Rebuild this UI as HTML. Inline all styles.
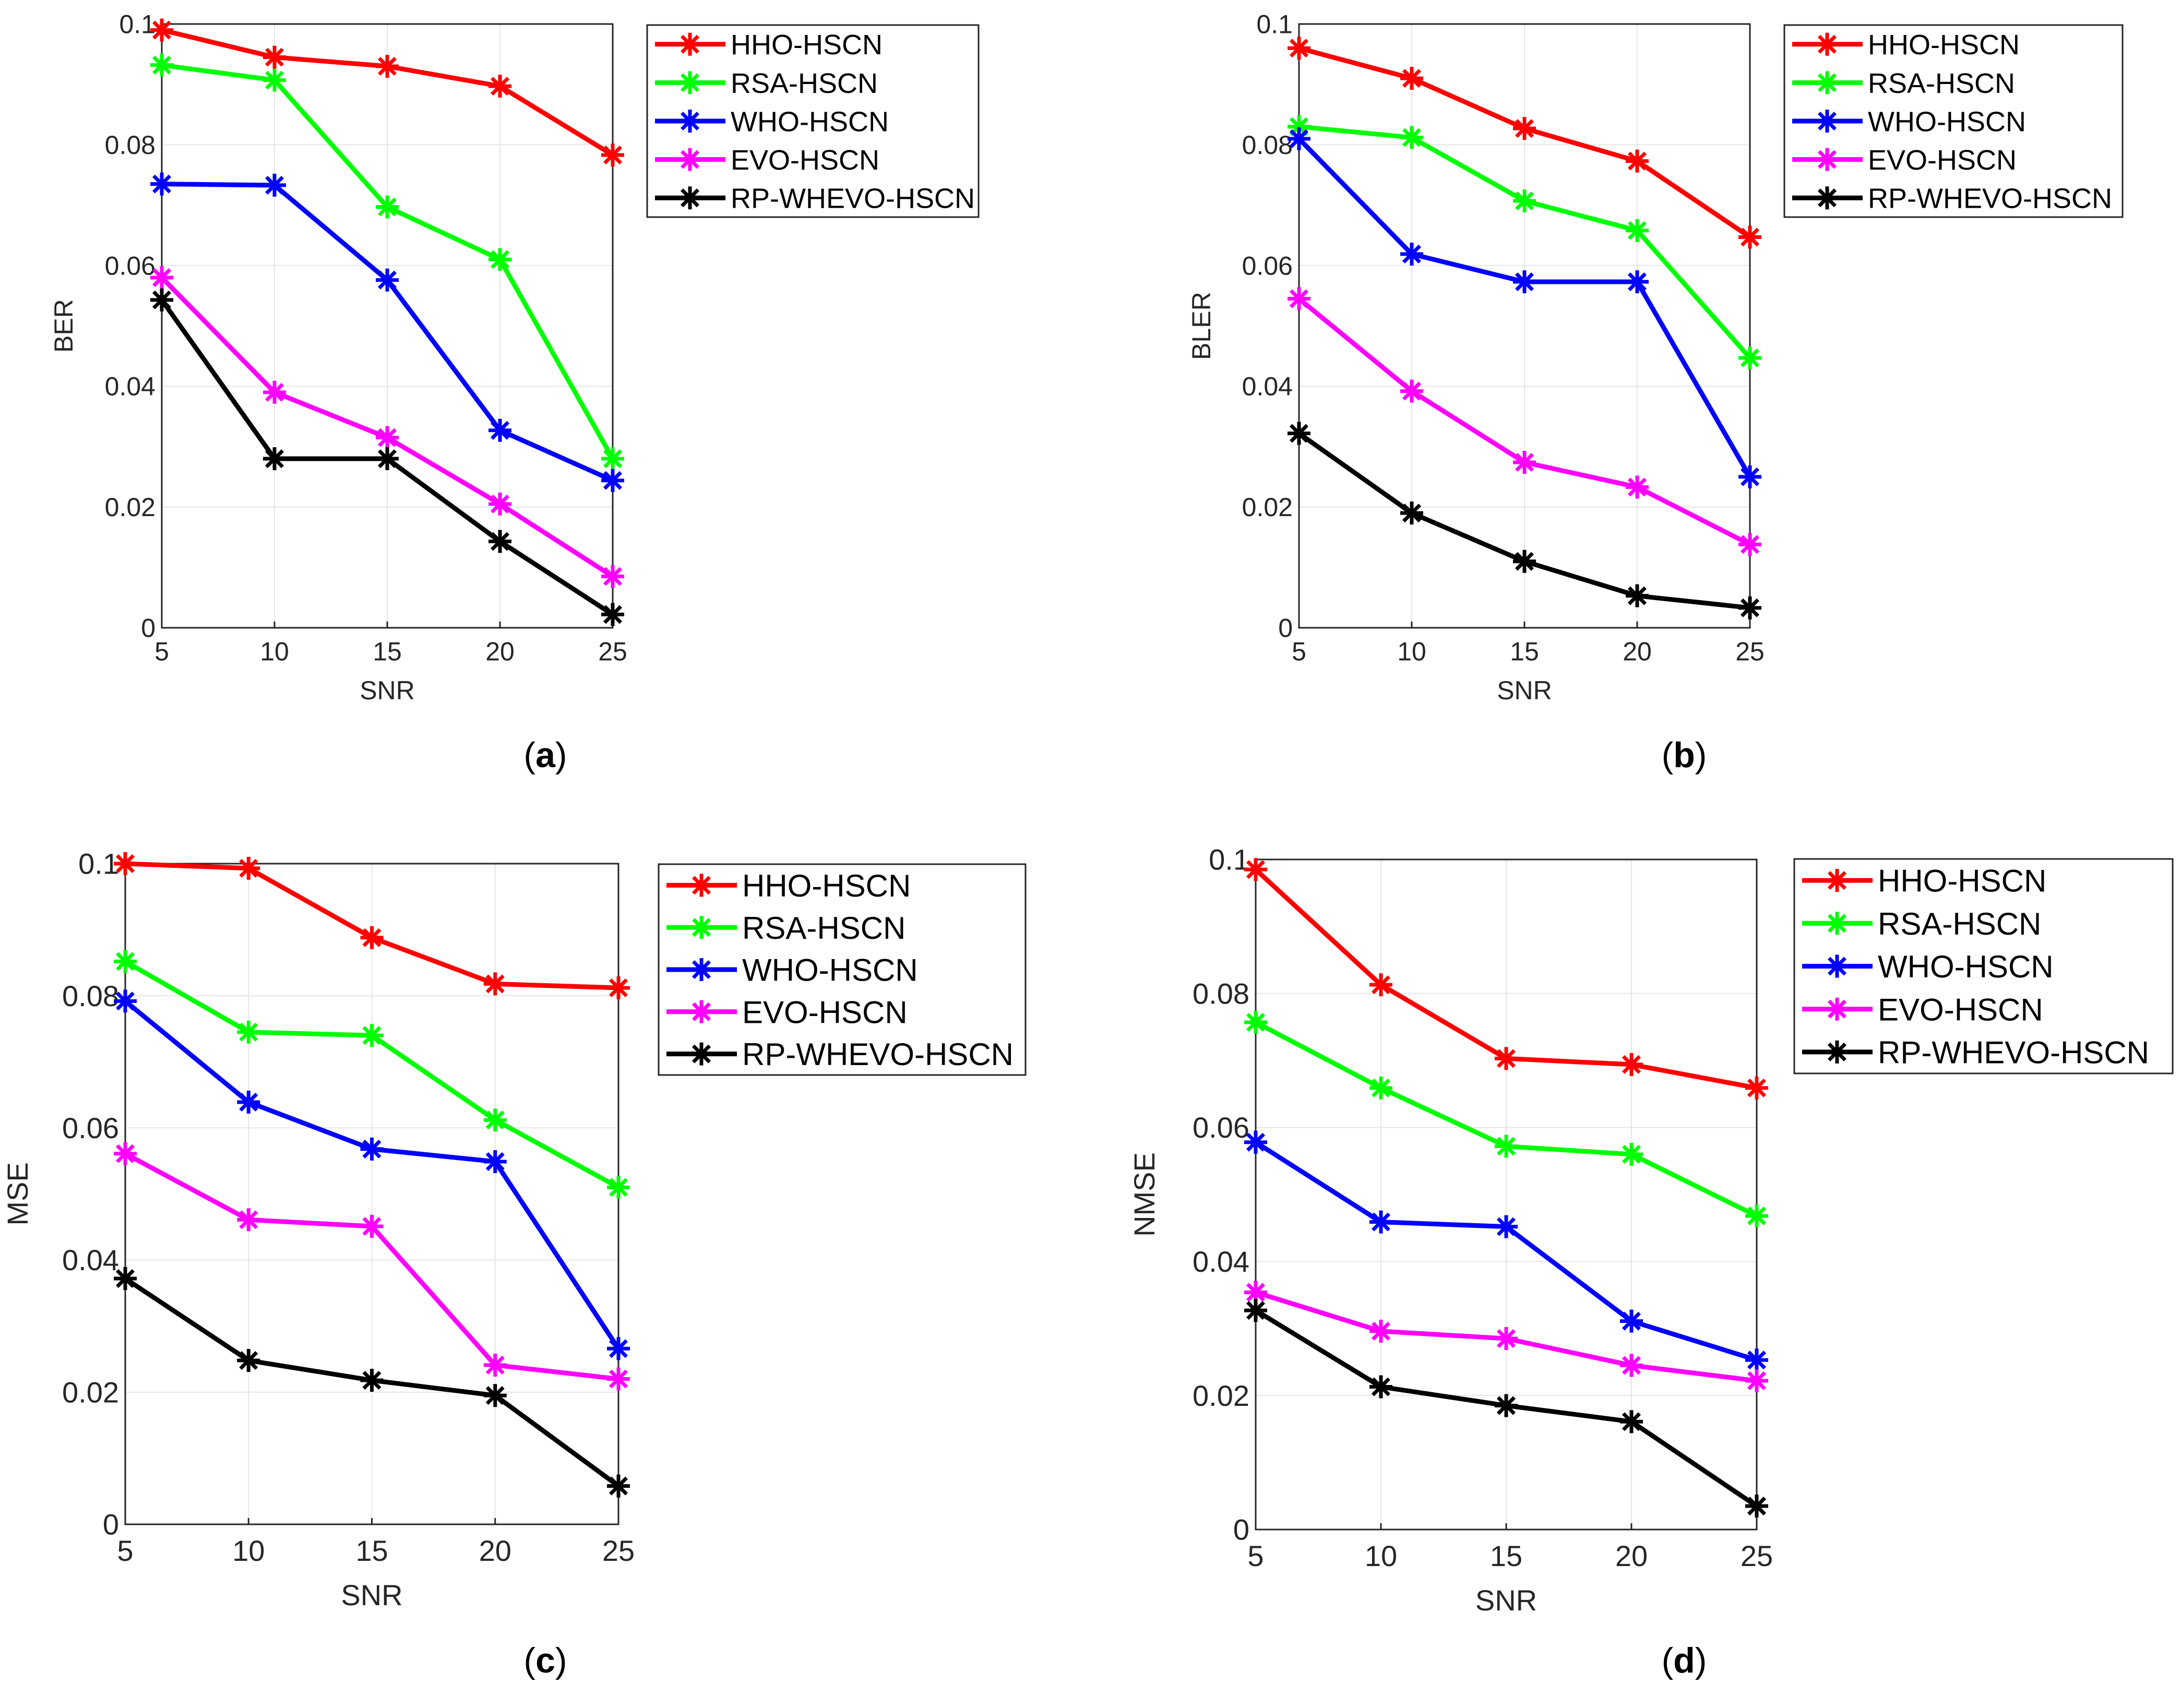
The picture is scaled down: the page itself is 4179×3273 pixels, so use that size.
<!DOCTYPE html>
<html><head><meta charset="utf-8"><style>
body{margin:0;background:#fff}
svg text{font-family:"Liberation Sans",sans-serif}
</style></head><body>
<svg id="c" width="4179" height="3268" xmlns="http://www.w3.org/2000/svg"></svg>
<script>
const snr=[5,10,15,20,25];
const yTicks=[0,0.02,0.04,0.06,0.08,0.1];
const yTickLabels=["0","0.02","0.04","0.06","0.08","0.1"];
const seriesNames=["HHO-HSCN","RSA-HSCN","WHO-HSCN","EVO-HSCN","RP-WHEVO-HSCN"];
const colors=["#ff0000","#00ff00","#0000ff","#ff00ff","#000000"];
const berHHO=[.099,.0945,.093,.0897,.0783];
const berRSA=[.0932,.0907,.0697,.061,.028];
const berWHO=[.0735,.0733,.0576,.0327,.0244];
const berEVO=[.058,.039,.0315,.0205,.0085];
const berRP=[.0543,.028,.028,.0143,.0022];
const blerHHO=[.096,.091,.0827,.0773,.0647];
const blerRSA=[.083,.0812,.0707,.0658,.0447];
const blerWHO=[.081,.0619,.0573,.0573,.025];
const blerEVO=[.0545,.0392,.0274,.0233,.0138];
const blerRP=[.0322,.019,.011,.0053,.0033];
const mseHHO=[.1,.0993,.0888,.0818,.0812];
const mseRSA=[.0852,.0745,.074,.0612,.051];
const mseWHO=[.0792,.0639,.0568,.0549,.0266];
const mseEVO=[.0561,.0461,.0451,.0241,.022];
const mseRP=[.0372,.0248,.0218,.0195,.0058];
const nmseHHO=[.0985,.0813,.0703,.0694,.0659];
const nmseRSA=[.0757,.0659,.0572,.056,.0468];
const nmseWHO=[.0578,.0459,.0452,.0311,.0253];
const nmseEVO=[.0354,.0296,.0285,.0245,.0222];
const nmseRP=[.0327,.0213,.0185,.0161,.0035];

const NS="http://www.w3.org/2000/svg";
const svg=document.getElementById('c');
function mk(t,a,p){const e=document.createElementNS(NS,t);for(const k in a)e.setAttribute(k,a[k]);(p||svg).appendChild(e);return e;}
function star(g,x,y,col,r){
  for(let i=0;i<4;i++){const a=i*Math.PI/4;
    mk('line',{x1:x-r*Math.cos(a),y1:y-r*Math.sin(a),x2:x+r*Math.cos(a),y2:y+r*Math.sin(a),stroke:col,'stroke-width':7},g);}
}
const panels=[
 {id:'a',L:310,R:1174,T:46,B:1203,ylab:'BER',ylx:139,data:[berHHO,berRSA,berWHO,berEVO,berRP],fs:50,leg:[1240,48,1875,416],lfs:54,cap:'a',capY:1470,xly:1340},
 {id:'b',L:2489,R:3353,T:46,B:1203,ylab:'BLER',ylx:2319,data:[blerHHO,blerRSA,blerWHO,blerEVO,blerRP],fs:50,leg:[3419,48,4067,416],lfs:54,cap:'b',capY:1470,xly:1340},
 {id:'c',L:240,R:1185,T:1655,B:2921,ylab:'MSE',ylx:53,data:[mseHHO,mseRSA,mseWHO,mseEVO,mseRP],fs:56,leg:[1262,1656,1965,2060],lfs:60,cap:'c',capY:3205,xly:3076},
 {id:'d',L:2406,R:3366,T:1647,B:2931,ylab:'NMSE',ylx:2212,data:[nmseHHO,nmseRSA,nmseWHO,nmseEVO,nmseRP],fs:56,leg:[3438,1646,4163,2057],lfs:60,cap:'d',capY:3205,xly:3086}
];
panels.forEach(p=>{
  const g=mk('g',{});
  
  
  const sx=v=>p.L+(v-5)/20*(p.R-p.L);
  const sy=v=>p.B-v/0.1*(p.B-p.T);
  mk('rect',{x:p.L,y:p.T,width:p.R-p.L,height:p.B-p.T,fill:'#fff',stroke:'#262626','stroke-width':3},g);
  snr.forEach(s=>{
    mk('line',{x1:sx(s),x2:sx(s),y1:p.T,y2:p.B,stroke:'#e6e6e6','stroke-width':2},g);
    mk('line',{x1:sx(s),x2:sx(s),y1:p.B,y2:p.B-12,stroke:'#262626','stroke-width':3},g);
    const t=mk('text',{x:sx(s),y:p.B+p.fs*1.25,'text-anchor':'middle','font-size':p.fs,fill:'#262626'},g);t.textContent=s;
    
    
  });
  yTicks.forEach((v,i)=>{
    mk('line',{x1:p.L,x2:p.R,y1:sy(v),y2:sy(v),stroke:'#e6e6e6','stroke-width':2},g);
    const t=mk('text',{x:p.L-12,y:sy(v)+p.fs*0.35,'text-anchor':'end','font-size':p.fs,fill:'#262626'},g);t.textContent=yTickLabels[i];
    
    
  });
  mk('rect',{x:p.L,y:p.T,width:p.R-p.L,height:p.B-p.T,fill:'none',stroke:'#262626','stroke-width':3},g);
  const xl=mk('text',{x:(p.L+p.R)/2,y:p.xly,'text-anchor':'middle','font-size':p.fs,fill:'#262626'},g);xl.textContent='SNR';
  
  
  const cy=(p.T+p.B)/2;
  const yl=mk('text',{x:p.ylx,y:cy,'text-anchor':'middle','font-size':p.fs,fill:'#262626',transform:`rotate(-90 ${p.ylx} ${cy})`},g);yl.textContent=p.ylab;
  
  
  p.data.forEach((arr,k)=>{
    const sg=mk('g',{},g);
    
    
    mk('polyline',{points:arr.map((v,i)=>sx(snr[i])+','+sy(v)).join(' '),fill:'none',stroke:colors[k],'stroke-width':9,'stroke-linejoin':'round'},sg);
    arr.forEach((v,i)=>star(sg,sx(snr[i]),sy(v),colors[k],22));
  });
  const [lx1,ly1,lx2,ly2]=p.leg;
  const lg=mk('g',{},g);
  
  
  mk('rect',{x:lx1,y:ly1,width:lx2-lx1,height:ly2-ly1,fill:'#fff',stroke:'#262626','stroke-width':3},lg);
  const step=(ly2-ly1)/5;
  seriesNames.forEach((n,k)=>{
    const yy=ly1+step*(k+0.5);
    mk('line',{x1:lx1+15,x2:lx1+150,y1:yy,y2:yy,stroke:colors[k],'stroke-width':9},lg);
    star(lg,lx1+82,yy,colors[k],22);
    const t=mk('text',{x:lx1+160,y:yy+p.lfs*0.36,'font-size':p.lfs,fill:'#000'},lg);t.textContent=n;
    
    
  });
  const cx=p.id==='a'||p.id==='c'?1045:3227;
  const cap=mk('text',{x:cx,y:p.capY,'text-anchor':'middle','font-size':68,fill:'#000','font-family':'Liberation Serif, serif'});
  cap.innerHTML='(<tspan font-weight="bold">'+p.cap+'</tspan>)';
  
  
});
</script>
</body></html>
